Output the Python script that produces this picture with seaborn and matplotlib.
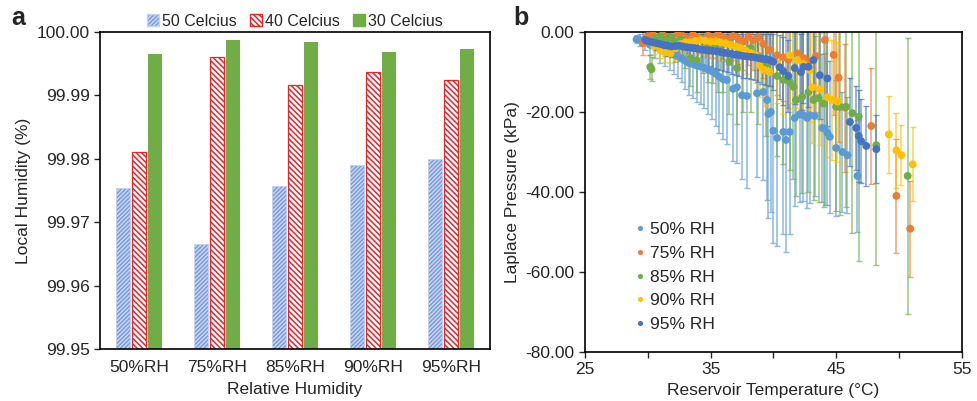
import matplotlib
matplotlib.use('Agg')
import matplotlib.pyplot as plt
import numpy as np
import pandas as pd
import seaborn as sns
from matplotlib.ticker import FormatStrFormatter, MultipleLocator, FixedLocator

# ---------------- Panel a data ----------------
categories = ['50%RH', '75%RH', '85%RH', '90%RH', '95%RH']
temp_labels = ['50 Celcius', '40 Celcius', '30 Celcius']
hum_50C = [99.9754, 99.9666, 99.9757, 99.9791, 99.9800]
hum_40C = [99.9811, 99.9961, 99.9916, 99.9937, 99.9925]
hum_30C = [99.9965, 99.9987, 99.9985, 99.9969, 99.9973]

# ---------------- Panel b data ----------------
rh_labels = ['50% RH', '75% RH', '85% RH', '90% RH', '95% RH']
x_major_ticks = [25, 35, 45, 55]
x_minor_ticks = [30, 40, 50]

T50 = [29.1, 29.4, 29.8, 30.2, 30.6, 31.0, 31.4, 31.8, 32.1, 32.4, 32.7, 33.0, 33.3, 33.6, 33.9,
       34.2, 34.5, 34.8, 35.1, 35.4, 35.7, 36.0, 36.3, 36.8, 37.1, 37.5, 37.9, 38.7, 39.2, 39.5,
       39.6, 39.8, 40.0, 40.3, 40.8, 41.0, 41.3, 41.7, 42.1, 42.4, 42.7, 42.9, 43.3, 43.9, 44.1,
       44.3, 44.5, 45.0, 45.5, 45.9, 46.7]
P50 = [-1.8, -2.0, -2.6, -3.2, -3.6, -4.2, -4.6, -5.0, -5.6, -6.0, -6.6, -7.2, -7.8, -8.0, -8.4,
       -8.6, -9.0, -9.4, -9.8, -10.4, -11.2, -11.8, -12.0, -14.2, -13.8, -15.8, -16.0, -15.3, -15.0, -17.0,
       -20.5, -20.0, -24.7, -26.5, -25.0, -27.0, -25.0, -21.5, -20.6, -20.8, -21.5, -20.8, -21.0, -24.0, -24.2,
       -25.2, -26.2, -29.0, -30.0, -30.8, -36.0]
E50 = [1.0, 1.5, 2.0, 2.5, 3.0, 3.5, 4.0, 4.5, 5.0, 5.5, 6.0, 7.0, 8.0, 8.5, 9.0,
       9.5, 10.0, 11.0, 12.0, 13.0, 14.0, 15.0, 16.0, 18.0, 19.0, 21.0, 23.0, 21.0, 22.0, 25.0,
       26.0, 25.0, 28.0, 27.0, 25.5, 28.0, 25.5, 22.0, 22.0, 21.5, 22.5, 22.0, 20.0, 18.5, 19.0,
       18.0, 19.0, 17.0, 15.0, 14.5, 14.0]

T75 = [29.6, 30.0, 30.4, 30.8, 31.2, 31.6, 32.0, 32.4, 32.8, 33.2, 33.6, 34.0, 34.4, 34.8, 35.2,
       35.6, 36.0, 36.4, 36.8, 37.2, 37.6, 38.0, 38.4, 38.8, 39.2, 39.7, 40.3, 40.8, 41.2, 41.9,
       42.4, 42.8, 43.4, 44.1, 44.8, 45.2, 45.7, 47.8, 49.8, 50.9]
P75 = [-2.8, -1.0, -0.6, -1.5, -0.8, -1.2, -2.0, -0.5, -1.0, -1.8, -0.7, -1.3, -2.2, -0.9, -1.5,
       -0.6, -1.2, -2.0, -1.0, -1.6, -2.4, -1.2, -2.0, -1.4, -3.0, -4.5, -5.8, -6.3, -6.9, -5.3,
       -6.5, -7.4, -6.0, -2.0, -5.7, -11.4, -18.9, -23.5, -41.0, -49.2]
E75 = [3.0, 2.0, 2.0, 2.5, 2.5, 3.0, 3.0, 3.0, 3.5, 3.5, 4.0, 4.0, 4.0, 4.5, 5.0,
       5.0, 5.5, 6.0, 6.0, 6.5, 7.0, 7.0, 7.5, 8.0, 8.5, 9.0, 10.0, 11.0, 12.0, 12.0,
       13.0, 14.0, 14.0, 15.0, 15.0, 16.0, 16.0, 14.5, 14.3, 12.0]

T85 = [30.2, 30.3, 30.6, 31.0, 31.4, 31.8, 32.2, 32.6, 33.0, 33.4, 33.9, 34.4, 34.8, 35.2, 35.6,
       36.0, 36.5, 37.1, 37.6, 38.2, 38.8, 39.4, 40.3, 40.8, 41.3, 41.6, 41.8, 42.3, 42.8, 43.2,
       43.6, 44.0, 45.0, 45.3, 45.8, 46.3, 46.8, 48.2, 50.7]
P85 = [-8.7, -9.3, -1.5, -1.0, -2.0, -1.2, -2.5, -1.8, -3.0, -6.5, -7.0, -2.2, -3.5, -2.8, -4.0,
       -3.0, -7.4, -9.0, -5.0, -4.0, -6.0, -8.0, -11.0, -12.0, -12.5, -13.7, -17.0, -16.2, -15.0, -17.0,
       -16.5, -17.9, -18.7, -18.7, -18.7, -20.3, -21.2, -28.3, -36.0]
E85 = [3.0, 3.0, 3.0, 3.5, 4.0, 4.5, 5.0, 5.5, 6.0, 7.0, 8.0, 8.0, 9.0, 10.0, 11.0,
       12.0, 13.0, 14.0, 15.0, 16.0, 17.0, 18.0, 20.0, 21.0, 22.0, 23.0, 24.0, 24.0, 25.0, 25.0,
       26.0, 26.0, 26.0, 27.0, 25.0, 30.0, 36.0, 30.0, 34.6]

T90 = [30.5, 31.0, 31.4, 31.8, 32.2, 32.6, 33.0, 33.4, 33.8, 34.2, 34.6, 35.0, 35.4, 35.8, 36.2,
       36.6, 37.0, 37.4, 37.8, 38.2, 38.6, 38.9, 39.3, 39.7, 40.3, 40.8, 41.3, 41.9, 42.4, 42.9,
       43.1, 43.7, 44.3, 44.7, 45.1, 49.2, 49.8, 50.2, 51.1]
P90 = [-3.5, -4.5, -5.0, -5.3, -4.0, -3.0, -2.6, -2.5, -2.2, -2.0, -2.2, -2.4, -2.3, -2.6, -2.8,
       -3.2, -3.6, -4.0, -4.6, -5.3, -5.8, -8.3, -9.5, -10.0, -7.8, -9.5, -5.8, -7.0, -8.0, -9.5,
       -13.8, -14.3, -16.3, -17.0, -17.4, -25.6, -29.6, -30.8, -33.1]
E90 = [2.0, 2.0, 2.5, 2.5, 3.0, 3.0, 3.0, 3.5, 3.5, 3.5, 4.0, 4.0, 4.0, 4.5, 4.5,
       5.0, 5.0, 5.5, 6.0, 6.5, 7.0, 8.0, 9.0, 10.0, 10.0, 11.0, 12.0, 12.0, 13.0, 13.0,
       14.0, 14.0, 15.0, 15.0, 15.0, 9.7, 9.3, 7.5, 9.3]

T95 = [29.8, 30.1, 30.4, 30.7, 31.0, 31.3, 31.6, 31.9, 32.2, 32.5, 32.8, 33.1, 33.4, 33.7, 34.0,
       34.3, 34.6, 34.9, 35.2, 35.5, 35.8, 36.1, 36.4, 36.7, 37.0, 37.3, 37.6, 37.9, 38.2, 38.5,
       38.8, 39.1, 39.4, 39.7, 40.0, 40.5, 40.8, 41.2, 41.7, 42.2, 42.4, 42.8, 43.2, 43.7, 44.3,
       46.1, 46.6, 46.8, 47.0, 47.4, 48.2]
P95 = [-2.0, -2.3, -2.6, -2.8, -3.0, -3.3, -3.4, -3.6, -3.5, -3.4, -3.6, -3.8, -3.9, -4.0, -4.2,
       -4.4, -4.5, -4.6, -4.7, -4.8, -5.0, -5.2, -5.3, -5.5, -5.7, -5.8, -6.0, -6.1, -6.2, -6.3,
       -6.5, -6.7, -6.8, -7.0, -7.4, -8.8, -9.8, -11.0, -9.0, -10.0, -8.7, -8.7, -7.0, -10.8, -11.6,
       -22.5, -24.0, -26.0, -27.3, -28.5, -29.3]
E95 = [1.0, 1.2, 1.5, 1.8, 2.0, 2.2, 2.5, 2.6, 2.8, 3.0, 3.0, 3.2, 3.4, 3.5, 3.6,
       3.8, 4.0, 4.0, 4.2, 4.4, 4.5, 4.6, 4.8, 5.0, 5.0, 5.2, 5.4, 5.5, 5.6, 5.8,
       6.0, 6.2, 6.4, 6.6, 7.0, 8.0, 8.5, 9.0, 9.0, 9.5, 9.0, 10.0, 9.0, 11.0, 12.0,
       11.0, 10.5, 11.5, 10.5, 10.0, 8.5]

# ---------------- Styling ----------------
sns.set_style('ticks')
plt.rcParams['font.family'] = ['Liberation Sans', 'DejaVu Sans']
plt.rcParams['hatch.linewidth'] = 1.1

FS = 12.5

fig = plt.figure(figsize=(9.77, 4.01), dpi=100)
ax1 = fig.add_axes([0.1024, 0.1297, 0.3991, 0.7903])
ax2 = fig.add_axes([0.5988, 0.1229, 0.3855, 0.7971])

# ---------------- Panel a ----------------
df_a = pd.DataFrame({
    'Relative Humidity': categories * 3,
    'Temp': [temp_labels[0]] * 5 + [temp_labels[1]] * 5 + [temp_labels[2]] * 5,
    'Humidity': hum_50C + hum_40C + hum_30C,
})
sns.barplot(data=df_a, x='Relative Humidity', y='Humidity', hue='Temp',
            hue_order=temp_labels, order=categories, width=0.62, gap=0.12,
            ax=ax1, legend=True)

styles = [
    dict(facecolor='#7A9BDA', edgecolor='#C4D3F0', hatch='/' * 8, linewidth=0.6),
    dict(facecolor='white', edgecolor='#E3262B', hatch='\\' * 6, linewidth=0.9),
    dict(facecolor='#70AD47', edgecolor='#70AD47', hatch=None, linewidth=0.0),
]
for cont, st in zip(ax1.containers, styles):
    for bar in cont:
        bar.set_facecolor(st['facecolor'])
        bar.set_edgecolor(st['edgecolor'])
        bar.set_linewidth(st['linewidth'])
        if st['hatch']:
            bar.set_hatch(st['hatch'])

ax1.set_ylim(99.95, 100.0)
ax1.yaxis.set_major_locator(MultipleLocator(0.01))
ax1.yaxis.set_major_formatter(FormatStrFormatter('%.2f'))
ax1.set_xlabel('Relative Humidity', fontsize=FS, labelpad=5)
ax1.set_ylabel('Local Humidity (%)', fontsize=FS)
ax1.tick_params(axis='y', labelsize=FS, length=4, width=1)
ax1.tick_params(axis='x', labelsize=FS, length=0, pad=8)
for sp in ax1.spines.values():
    sp.set_visible(True)
    sp.set_color('black')
    sp.set_linewidth(1.2)

handles, labels = ax1.get_legend_handles_labels()
leg1 = ax1.legend(handles, labels, loc='lower center', bbox_to_anchor=(0.5, 1.0),
                  ncol=3, frameon=False, fontsize=11.5, handlelength=0.75,
                  handleheight=0.75, handletextpad=0.2, columnspacing=0.8,
                  borderaxespad=0.0, borderpad=0.2)
for h, st in zip(leg1.legend_handles, styles):
    h.set_facecolor(st['facecolor'])
    h.set_edgecolor(st['edgecolor'])
    if st['hatch']:
        h.set_hatch(st['hatch'])

fig.text(0.012, 0.955, 'a', fontsize=18, fontweight='bold', va='center')

# ---------------- Panel b ----------------
colors = ['#5B9BD5', '#ED7D31', '#70AD47', '#FFC000', '#4472C4']
series_T = [T50, T75, T85, T90, T95]
series_P = [P50, P75, P85, P90, P95]
series_E = [E50, E75, E85, E90, E95]

for T, P, E, c in zip(series_T, series_P, series_E, colors):
    ax2.errorbar(T, P, yerr=E, fmt='none', ecolor=c, elinewidth=1.1,
                 capsize=2, capthick=1.0, alpha=0.7, zorder=1)

frames = []
for lab, T, P in zip(rh_labels, series_T, series_P):
    frames.append(pd.DataFrame({'T': T, 'P': P, 'RH': lab}))
df_b = pd.concat(frames, ignore_index=True)

sns.scatterplot(data=df_b, x='T', y='P', hue='RH', hue_order=rh_labels,
                palette=colors, s=32, linewidth=0, ax=ax2, zorder=3, legend=True)

ax2.set_xlim(25, 55)
ax2.set_ylim(-80, 0)
ax2.xaxis.set_major_locator(FixedLocator(x_major_ticks))
ax2.xaxis.set_minor_locator(FixedLocator(x_minor_ticks))
ax2.yaxis.set_major_locator(MultipleLocator(20))
ax2.yaxis.set_major_formatter(FormatStrFormatter('%.2f'))
ax2.set_xlabel('Reservoir Temperature (°C)', fontsize=FS)
ax2.set_ylabel('Laplace Pressure (kPa)', fontsize=FS)
ax2.tick_params(axis='both', which='major', labelsize=FS, length=4, width=1)
ax2.tick_params(axis='x', which='minor', length=4, width=1)
for sp in ax2.spines.values():
    sp.set_visible(True)
    sp.set_color('black')
    sp.set_linewidth(1.2)

leg2 = ax2.legend(loc='lower left', bbox_to_anchor=(0.09, 0.012), frameon=False,
                  fontsize=FS, markerscale=0.65, handlelength=0.6,
                  handletextpad=0.3, labelspacing=0.5, title=None)

fig.text(0.525, 0.955, 'b', fontsize=18, fontweight='bold', va='center')

fig.savefig('out.png', dpi=100)
